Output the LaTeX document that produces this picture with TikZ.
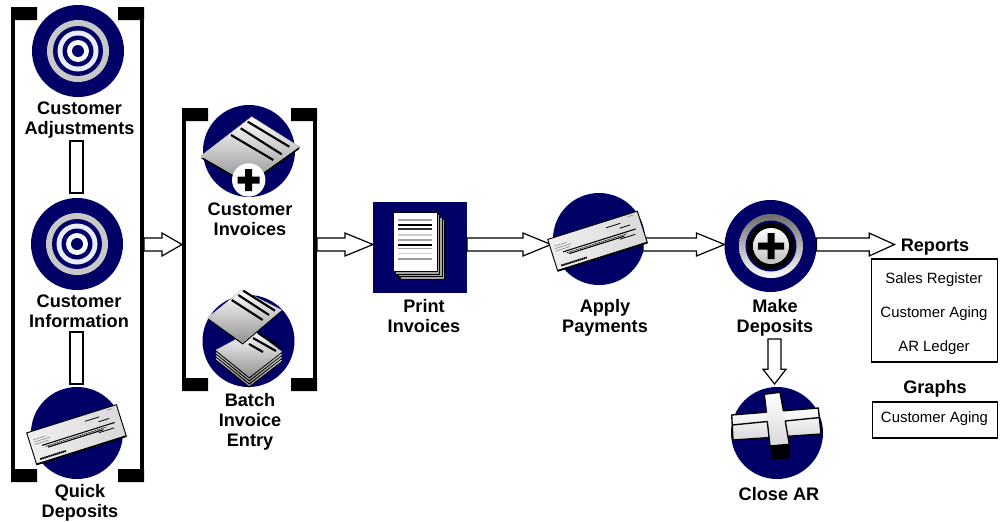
\documentclass[tikz,border=0pt]{standalone}
\usepackage{fontspec}
\setmainfont{Liberation Sans}
\usetikzlibrary{calc}
\definecolor{discblue}{HTML}{000066}
\definecolor{ringgray}{HTML}{C8C8C8}
\tikzset{
	disc/.style={circle, fill=discblue, minimum size=69pt, inner sep=0pt, outer sep=0pt},
	panel/.style={inner sep=0pt, outer sep=0pt},
	title/.style={font=\fontsize{13.6}{15}\selectfont\bfseries, align=center, inner sep=0pt},
	entry/.style={font=\fontsize{11.2}{13}\selectfont, inner sep=0pt},
	listbox/.style={draw, line width=.9pt, inner sep=0pt, outer sep=0pt, minimum width=94pt},
	blockarrow/.style={draw, line width=.9pt, fill=white, to path={
		let \p1=($(\tikztotarget)!#1!(\tikztostart)$) in
		($(\tikztostart)!4.9pt!90:(\tikztotarget)$) -- ($(\p1)!4.9pt!-90:(\tikztostart)$)
		-- ($(\p1)!8.6pt!-90:(\tikztostart)$) -- (\tikztotarget) -- ($(\p1)!8.6pt!90:(\tikztostart)$)
		-- ($(\p1)!4.9pt!90:(\tikztostart)$) -- ($(\tikztostart)!4.9pt!-90:(\tikztotarget)$) -- cycle}},
	blockarrow/.default=21pt,
	linkbar/.style={draw, line width=.9pt, fill=white, to path={
		($(\tikztostart)!4.9pt!90:(\tikztotarget)$) -- ($(\tikztotarget)!4.9pt!-90:(\tikztostart)$)
		-- ($(\tikztotarget)!4.9pt!90:(\tikztostart)$) -- ($(\tikztostart)!4.9pt!-90:(\tikztotarget)$) -- cycle}},
	sheet/.style={draw=gray!60, line width=.3pt, top color=white, bottom color=gray!85},
	target/.pic={
		\fill[ringgray] (0,0) circle[radius=31];
		\fill[discblue] (0,0) circle[radius=25];
		\fill[white!92!blue] (0,0) circle[radius=20.5];
		\fill[discblue] (0,0) circle[radius=15.5];
		\fill[white] (0,0) circle[radius=11];
		\fill[discblue] (0,0) circle[radius=6];
	},
	cheque/.pic={
		\draw[line width=.7pt, left color=gray!12, middle color=white, right color=gray!30] (-47,-16.5) rectangle (47,16.5);
		\draw[line width=1.3pt] (-47,16.5)--(47,16.5);
		\draw[line width=.8pt] (-36,0)--(40,0) (-31,3.5)--(27,3.5);
		\draw[line width=.5pt, dash pattern=on 1pt off .5pt] (-33,2)--(30,2);
		\draw[line width=1.4pt, dash pattern=on 1.2pt off .4pt] (-42,12.5)--(-15,12.5);
		\draw[line width=.6pt] (12,-10)--(27,-10) (25,-5.5)--(36,-5.5) (22,5)--(38,5);
		\draw[line width=.4pt, gray] (-43,-8)--(-30,-8) (-43,-5.5)--(-26,-5.5) (-43,-3)--(-28,-3) (36,-14)--(42,-14);
	},
}
\begin{document}
\begin{tikzpicture}[x=.75pt, y=-.75pt, line join=miter]
	\useasboundingbox (0,0) rectangle (1002,521);
	\coordinate (flow) at (0,244.5);
	% brackets
	\node[panel, minimum width=133*.75pt, minimum height=475*.75pt] (setup) at (77.5,244.5) {};
	\node[panel, minimum width=135*.75pt, minimum height=283*.75pt] (billing) at (249.5,249.5) {};
	\foreach \grp in {setup,billing}{
		\draw[line width=3pt] ([xshift=1.5pt]\grp.north west) -- ([xshift=1.5pt]\grp.south west);
		\draw[line width=3pt] ([xshift=-1.5pt]\grp.north east) -- ([xshift=-1.5pt]\grp.south east);
		\fill (\grp.north west) rectangle ++(26,13) (\grp.north east) rectangle ++(-26,13);
		\fill (\grp.south west) rectangle ++(26,-13) (\grp.south east) rectangle ++(-26,-13);
	}
	% discs
	\node[disc] (adjust) at (78,51) {};
	\node[disc] (inform) at (77,244) {};
	\node[disc] (quick) at (77,433) {};
	\node[disc] (invoice) at (249,151) {};
	\node[disc] (batch) at (248.5,341) {};
	\node[disc] (apply) at (599,239) {};
	\node[disc] (make) at (770.5,246) {};
	\node[disc] (close) at (777,433) {};
	\node[panel, fill=discblue, minimum width=94*.75pt, minimum height=91*.75pt] (print) at (420,247.5) {};
	% labels
	\node[title] (adjustlabel) at (79.5,120.5) {Customer\\Adjustments};
	\node[title] (informlabel) at (79,311) {Customer\\Information};
	\node[title] (quicklabel) at (80,503) {Quick\\Deposits};
	\node[title] (invoicelabel) at (250,219) {Customer\\Invoices};
	\node[title] (batchlabel) at (250,422) {Batch\\Invoice\\Entry};
	\node[title] (printlabel) at (424,316) {Print\\Invoices};
	\node[title] (applylabel) at (605,318) {Apply\\Payments};
	\node[title] (makelabel) at (775,318) {Make\\Deposits};
	\node[title] (closelabel) at (779,494) {Close AR};
	\node[title] (reports) at (935,247) {Reports};
	\node[title] (graphs) at (935,389) {Graphs};
	\node[listbox, minimum height=103*.75pt] (reportbox) at (934.5,310.5) {};
	\node[listbox, minimum height=36*.75pt] (graphbox) at (935,420) {};
	\node[entry] (sales) at (934,280) {Sales Register};
	\node[entry] (aging) at (934,314) {Customer Aging};
	\node[entry] (ledger) at (934,348) {AR Ledger};
	\node[entry] (graphaging) at (934.5,419) {Customer Aging};
	% connectors
	\draw[linkbar] ($(inform.north)+(-.5,-57)$) to ($(inform.north)+(-.5,-5)$);
	\draw[linkbar] ($(quick.north)+(-.5,-55)$) to ($(quick.north)+(-.5,-3)$);
	\draw[blockarrow=15pt] (setup.east |- flow) to (billing.west |- flow);
	\draw[blockarrow] (billing.east |- flow) to (print.west |- flow);
	\draw[blockarrow] (print.east |- flow) to ([xshift=-1.5pt]apply.west |- flow);
	\draw[blockarrow] ([xshift=-1.5pt]apply.east |- flow) to (make.west |- flow);
	\draw[blockarrow=19pt] (make.east |- flow) to ([xshift=-4.5pt]reports.west |- flow);
	\draw[blockarrow=11pt] ($(close.north)+(-2.5,-48)$) to ($(close.north)+(-2.5,-3)$);
	% icons
	\pic at (adjust) {target};
	\pic at (inform) {target};
	\pic[rotate=17.5] at (76.5,434.5) {cheque};
	\pic[rotate=17.5] at (597.5,241) {cheque};
	% single invoice
	\fill (200.7,158) -- (248,186) -- (299.3,149) -- (299.3,146) -- cycle;
	\draw[sheet] (200.7,156) -- (251.7,116.7) -- (299.3,146.7) -- (248,183) -- cycle;
	\draw[line width=1.6pt] (247.7,121.7)--(289.3,146.7) (240.7,128.3)--(281.7,154.3) (231,135)--(273.3,160);
	\node[circle, fill=white, minimum size=25pt, inner sep=0pt] (invoiceplus) at (248.7,180) {};
	\fill (237.7,176.5) rectangle (259.7,183.5) (245.2,169) rectangle (252.2,191);
	% invoice stack
	\foreach \dy in {9,6,3,0}{
		\fill[yshift=-\dy*.75pt] (216,351.5) -- (249.3,378.5) -- (281.7,353) -- (281.7,351) -- (253.3,330) -- cycle;
		\draw[sheet, yshift=-\dy*.75pt] (216,350) -- (253.3,330) -- (281.7,351.7) -- (249.3,376.7) -- cycle;
	}
	\draw[line width=1.6pt] (258,333)--(280,347) (253,338)--(276,351) (249,344)--(263,352);
	\fill (207.7,319) -- (242.7,344.5) -- (281.7,311.5) -- (281.7,310) -- cycle;
	\draw[sheet] (207.7,317.7) -- (241.7,290) -- (281.7,310) -- (242.7,342.7) -- cycle;
	\draw[line width=1.6pt] (243.3,290.7)--(275,310.7) (238.3,295)--(269,315) (231.7,300)--(262.7,320);
	% printed pages
	\foreach \off in {7.5,5,2.5}{
		\draw[line width=.6pt, fill=gray!70] (393.3+\off,212.3+\off) rectangle (437+\off,271.7+\off);
	}
	\draw[line width=.6pt, fill=white] (393.3,212.3) rectangle (437,271.7);
	\foreach \ly/\ink in {220/gray!70,225/black,229/black!80,235/gray!40,240/gray!70,245/black,248.3/gray!80,253.3/gray!40,259/gray!80}{
		\draw[line width=1.1pt, \ink] (398.3,\ly) -- (431.7,\ly);
	}
	% deposit
	\shade[top color=gray!85!black, bottom color=white] (771,246) circle[radius=32];
	\fill[discblue] (771,246) circle[radius=25.5];
	\fill[black] (771,246) circle[radius=23.5];
	\shade[top color=white, bottom color=gray!50] (771,246) circle[radius=18];
	\fill (758,242.5) rectangle (784,249.5) (767.5,233) rectangle (774.5,259);
	% closing cross
	\fill (770,445) -- (789.3,443) -- (790.7,458.3) -- (771.7,459.3) -- cycle;
	\draw[line width=1pt, top color=white, bottom color=gray!30] (731.7,415) -- (818.3,408) -- (821,434) -- (733,440) -- cycle;
	\shade[top color=white, bottom color=gray!30] (764.3,394.3) -- (780,392.3) -- (789.3,444.3) -- (770,446) -- cycle;
	\draw[line width=1pt] (766.5,412.5) -- (764.3,394.3) -- (780,392.3) -- (783.4,411);
	\draw[line width=1pt] (767.3,421.5) -- (770,446) -- (789.3,444.3) -- (785.2,421);
	\draw[line width=1pt] (732.3,425) -- (767.3,421.5) (785.2,421) -- (820,417.5);
\end{tikzpicture}
\end{document}
